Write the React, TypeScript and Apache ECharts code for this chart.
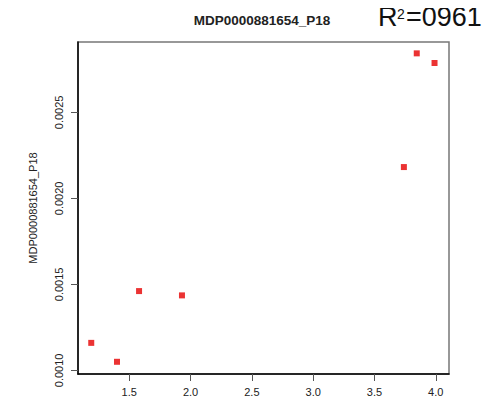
import React, { useEffect, useRef } from "react";
import * as echarts from "echarts";

const titleText = "MDP0000881654_P18";
const yName = "MDP0000881654_P18";
const r2Main = "R";
const r2Sup = "2";
const r2Rest = "=0961";
const xValues = [1.19, 1.4, 1.58, 1.93, 3.74, 3.845, 3.99];
const yValues = [0.00116, 0.00105, 0.001461, 0.001436, 0.002182, 0.002843, 0.002787];
const xTicks = [1.5, 2.0, 2.5, 3.0, 3.5, 4.0];
const yTicks = [0.001, 0.0015, 0.002, 0.0025];

export default function App() {
  const ref = useRef<HTMLDivElement>(null);
  useEffect(() => {
    if (!ref.current) return;
    const chart = echarts.init(ref.current, undefined, { renderer: "svg" });
    const font = "Liberation Sans, Arial, sans-serif";
    chart.setOption({
      animation: false,
      backgroundColor: "#fff",
      title: {
        text: titleText,
        left: 257,
        top: 8,
        textAlign: "center",
        textStyle: { fontFamily: font, fontSize: 13.5, fontWeight: "bold", color: "#222" },
      },
      graphic: [
        {
          type: "text",
          x: 378,
          y: 30,
          style: { text: r2Main, fontFamily: font, fontSize: 27, fill: "#111", verticalAlign: "bottom" },
        },
        {
          type: "text",
          x: 397,
          y: 21,
          style: { text: r2Sup, fontFamily: font, fontSize: 14, fill: "#111", verticalAlign: "bottom" },
        },
        {
          type: "text",
          x: 406,
          y: 30,
          style: { text: r2Rest, fontFamily: font, fontSize: 27, fill: "#111", verticalAlign: "bottom" },
        },
      ],
      grid: { left: 78, right: 48, top: 42, bottom: 31, show: true, borderColor: "#777", borderWidth: 1.5 },
      xAxis: {
        type: "value",
        min: 1.082,
        max: 4.108,
        axisLine: { show: true, onZero: false, lineStyle: { color: "#000", width: 1.5 } },
        axisTick: { show: true, customValues: xTicks, length: 7, lineStyle: { color: "#555" } },
        axisLabel: {
          customValues: xTicks,
          formatter: (v: number) => v.toFixed(1),
          fontFamily: font,
          fontSize: 11,
          color: "#222",
          margin: 12,
        },
        splitLine: { show: false },
      },
      yAxis: {
        type: "value",
        min: 0.000979,
        max: 0.002909,
        name: yName,
        nameLocation: "middle",
        nameRotate: 90,
        nameGap: 40,
        nameTextStyle: { fontFamily: font, fontSize: 11, color: "#222" },
        axisLine: { show: true, onZero: false, lineStyle: { color: "#000", width: 1.5 } },
        axisTick: { show: true, customValues: yTicks, length: 7, lineStyle: { color: "#555" } },
        axisLabel: {
          customValues: yTicks,
          formatter: (v: number) => v.toFixed(4),
          rotate: 90,
          fontFamily: font,
          fontSize: 11,
          color: "#222",
          margin: 14,
          align: "center",
          verticalAlign: "bottom",
        },
        splitLine: { show: false },
      },
      series: [
        {
          type: "scatter",
          symbol: "rect",
          symbolSize: 6,
          itemStyle: { color: "#e60000" },
          data: xValues.map((x, i) => [x, yValues[i]]),
        },
      ],
    });
    return () => chart.dispose();
  }, []);
  return <div ref={ref} style={{ width: 497, height: 405, margin: -8 }} />;
}
